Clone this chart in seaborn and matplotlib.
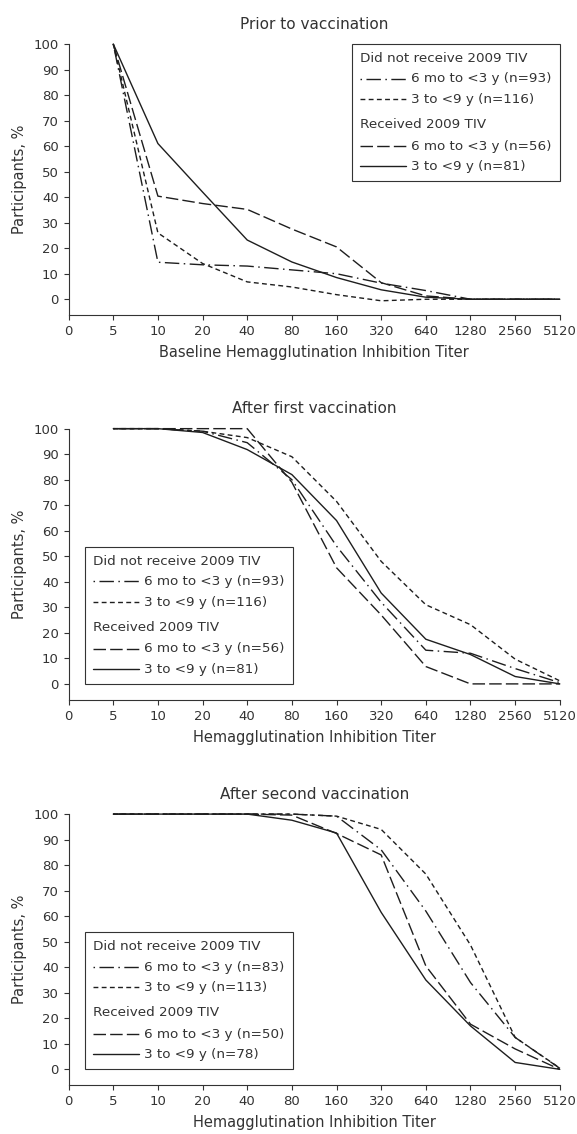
"""
Reverse cumulative distribution of HI titers by vaccination status and age
"""
import pandas as pd
import seaborn as sns
import matplotlib
matplotlib.use("Agg")
import matplotlib.pyplot as plt
from matplotlib.lines import Line2D
from matplotlib.text import Text
from matplotlib.legend_handler import HandlerBase


TITER_TICKS = ["0", "5", "10", "20", "40", "80", "160", "320", "640", "1280", "2560", "5120"]
TITERS = TITER_TICKS[1:]

GROUPS = ["nr_young", "nr_old", "r_young", "r_old"]

# Prior to vaccination
PRIOR_NR_YOUNG = [100, 14.5, 13.5, 13.0, 11.5, 10.0, 6.3, 3.4, 0, 0, 0]
PRIOR_NR_OLD = [100, 26, 14, 6.8, 4.8, 1.8, -0.6, 0, 0, 0, 0]
PRIOR_R_YOUNG = [100, 40.4, 37.5, 35.2, 27.5, 20.5, 6.5, 1.3, 0, 0, 0]
PRIOR_R_OLD = [100, 61, 42, 23.2, 14.6, 8.5, 3.7, 0.8, 0, 0, 0]
PRIOR_N = [93, 116, 56, 81]

# After first vaccination
FIRST_NR_YOUNG = [100, 100, 99, 94.5, 80, 54, 32, 13.2, 12, 6, 0.5]
FIRST_NR_OLD = [100, 100, 99, 96.5, 89, 71.5, 48, 31, 23.2, 9.7, 1.2]
FIRST_R_YOUNG = [100, 100, 100, 100, 79, 45.5, 27, 6.8, 0, 0, 0]
FIRST_R_OLD = [100, 100, 98.5, 91.8, 82, 64, 35.6, 17.5, 11.5, 2.9, 0]
FIRST_N = [93, 116, 56, 81]

# After second vaccination
SECOND_NR_YOUNG = [100, 100, 100, 100, 100, 99.2, 86, 62, 34, 12.5, 0.4]
SECOND_NR_OLD = [100, 100, 100, 100, 100, 99.2, 94, 76.5, 48.7, 12.5, 0.5]
SECOND_R_YOUNG = [100, 100, 100, 100, 99.6, 92.4, 84, 40.5, 17.7, 8, 0]
SECOND_R_OLD = [100, 100, 100, 100, 97.6, 92.6, 61.5, 35, 17, 2.7, 0]
SECOND_N = [83, 113, 50, 78]

LINE_COLOR = "#1e1e1e"
TEXT_COLOR = "#333333"
DASHES = {
    "nr_young": (1.1, 3.2, 10.4, 3.2),
    "nr_old": (3.5, 2.4),
    "r_young": (9, 3),
    "r_old": "",
}

sns.set_style("ticks")
plt.rcParams["font.family"] = ["DejaVu Sans"]
plt.rcParams.update({
    "text.color": TEXT_COLOR,
    "axes.labelcolor": TEXT_COLOR,
    "axes.edgecolor": TEXT_COLOR,
    "axes.linewidth": 0.8,
    "xtick.color": TEXT_COLOR,
    "ytick.color": TEXT_COLOR,
    "xtick.major.size": 3.5,
    "ytick.major.size": 3.5,
    "xtick.major.width": 0.8,
    "ytick.major.width": 0.8,
    "xtick.labelsize": 9.5,
    "ytick.labelsize": 9.5,
})


class Heading:
    def __init__(self, text):
        self.text = text


class HeadingHandler(HandlerBase):
    # draw the group heading where the line sample would go
    def create_artists(self, legend, orig_handle, xdescent, ydescent,
                       width, height, fontsize, trans):
        t = Text(-xdescent, 0, orig_handle.text, fontsize=fontsize,
                 color=TEXT_COLOR, ha="left", va="baseline", transform=trans)
        return [t]


def sample(group):
    if DASHES[group] == "":
        return Line2D([], [], color=LINE_COLOR, lw=1.0, linestyle="-")
    return Line2D([], [], color=LINE_COLOR, lw=1.0, dashes=DASHES[group])


def draw_panel(ax, series, counts, title, xlabel, legend_loc):
    frames = []
    for group, values in zip(GROUPS, series):
        frames.append(pd.DataFrame({
            "pos": [TITER_TICKS.index(t) for t in TITERS],
            "pct": values,
            "group": group,
        }))
    df = pd.concat(frames, ignore_index=True)

    sns.lineplot(data=df, x="pos", y="pct", style="group", style_order=GROUPS,
                 dashes=DASHES, color=LINE_COLOR, linewidth=1.0,
                 errorbar=None, legend=False, sort=False, ax=ax)
    for line in ax.lines:
        line.set_clip_on(False)

    ax.set_xlim(0, 11)
    ax.set_ylim(-6.27, 100)
    ax.set_xticks(range(len(TITER_TICKS)))
    ax.set_xticklabels(TITER_TICKS)
    ax.set_yticks(range(0, 101, 10))
    sns.despine(ax=ax)
    ax.set_title(title, fontsize=11, pad=11, color=TEXT_COLOR)
    ax.set_xlabel(xlabel, fontsize=10.5, labelpad=5)
    ax.set_ylabel("Participants, %", fontsize=10.5, labelpad=5)

    handles = [Heading("Did not receive 2009 TIV"), sample("nr_young"), sample("nr_old"),
               Heading("Received 2009 TIV"), sample("r_young"), sample("r_old")]
    labels = ["",
              "6 mo to <3 y (n={})".format(counts[0]),
              "3 to <9 y (n={})".format(counts[1]),
              "",
              "6 mo to <3 y (n={})".format(counts[2]),
              "3 to <9 y (n={})".format(counts[3])]
    common = dict(handler_map={Heading: HeadingHandler()}, fontsize=9.7,
                  handlelength=3.4, handleheight=0.3, handletextpad=0.4,
                  labelspacing=0.55, borderpad=0.6, borderaxespad=0,
                  frameon=True, fancybox=False, framealpha=1,
                  edgecolor=TEXT_COLOR, labelcolor=TEXT_COLOR)
    if legend_loc == "upper right":
        leg = ax.legend(handles, labels, loc="upper right",
                        bbox_to_anchor=(1, 1), **common)
    else:
        leg = ax.legend(handles, labels, loc="lower left",
                        bbox_to_anchor=(0.0334, 0),
                        bbox_transform=ax.get_yaxis_transform(), **common)
    leg.get_frame().set_linewidth(0.8)
    # a little extra room above the second heading
    leg.get_texts()[3].set_fontsize(14)
    return ax


fig = plt.figure(figsize=(5.77, 11.34), dpi=100)
left, width, height = 0.1189, 0.8513, 0.2392

ax1 = fig.add_axes([left, 0.7220, width, height])
draw_panel(ax1, [PRIOR_NR_YOUNG, PRIOR_NR_OLD, PRIOR_R_YOUNG, PRIOR_R_OLD], PRIOR_N,
           "Prior to vaccination", "Baseline Hemagglutination Inhibition Titer", "upper right")

ax2 = fig.add_axes([left, 0.3828, width, height])
draw_panel(ax2, [FIRST_NR_YOUNG, FIRST_NR_OLD, FIRST_R_YOUNG, FIRST_R_OLD], FIRST_N,
           "After first vaccination", "Hemagglutination Inhibition Titer", "lower left")

ax3 = fig.add_axes([left, 0.0429, width, height])
draw_panel(ax3, [SECOND_NR_YOUNG, SECOND_NR_OLD, SECOND_R_YOUNG, SECOND_R_OLD], SECOND_N,
           "After second vaccination", "Hemagglutination Inhibition Titer", "lower left")

fig.savefig("out.png", dpi=100, facecolor="white")
